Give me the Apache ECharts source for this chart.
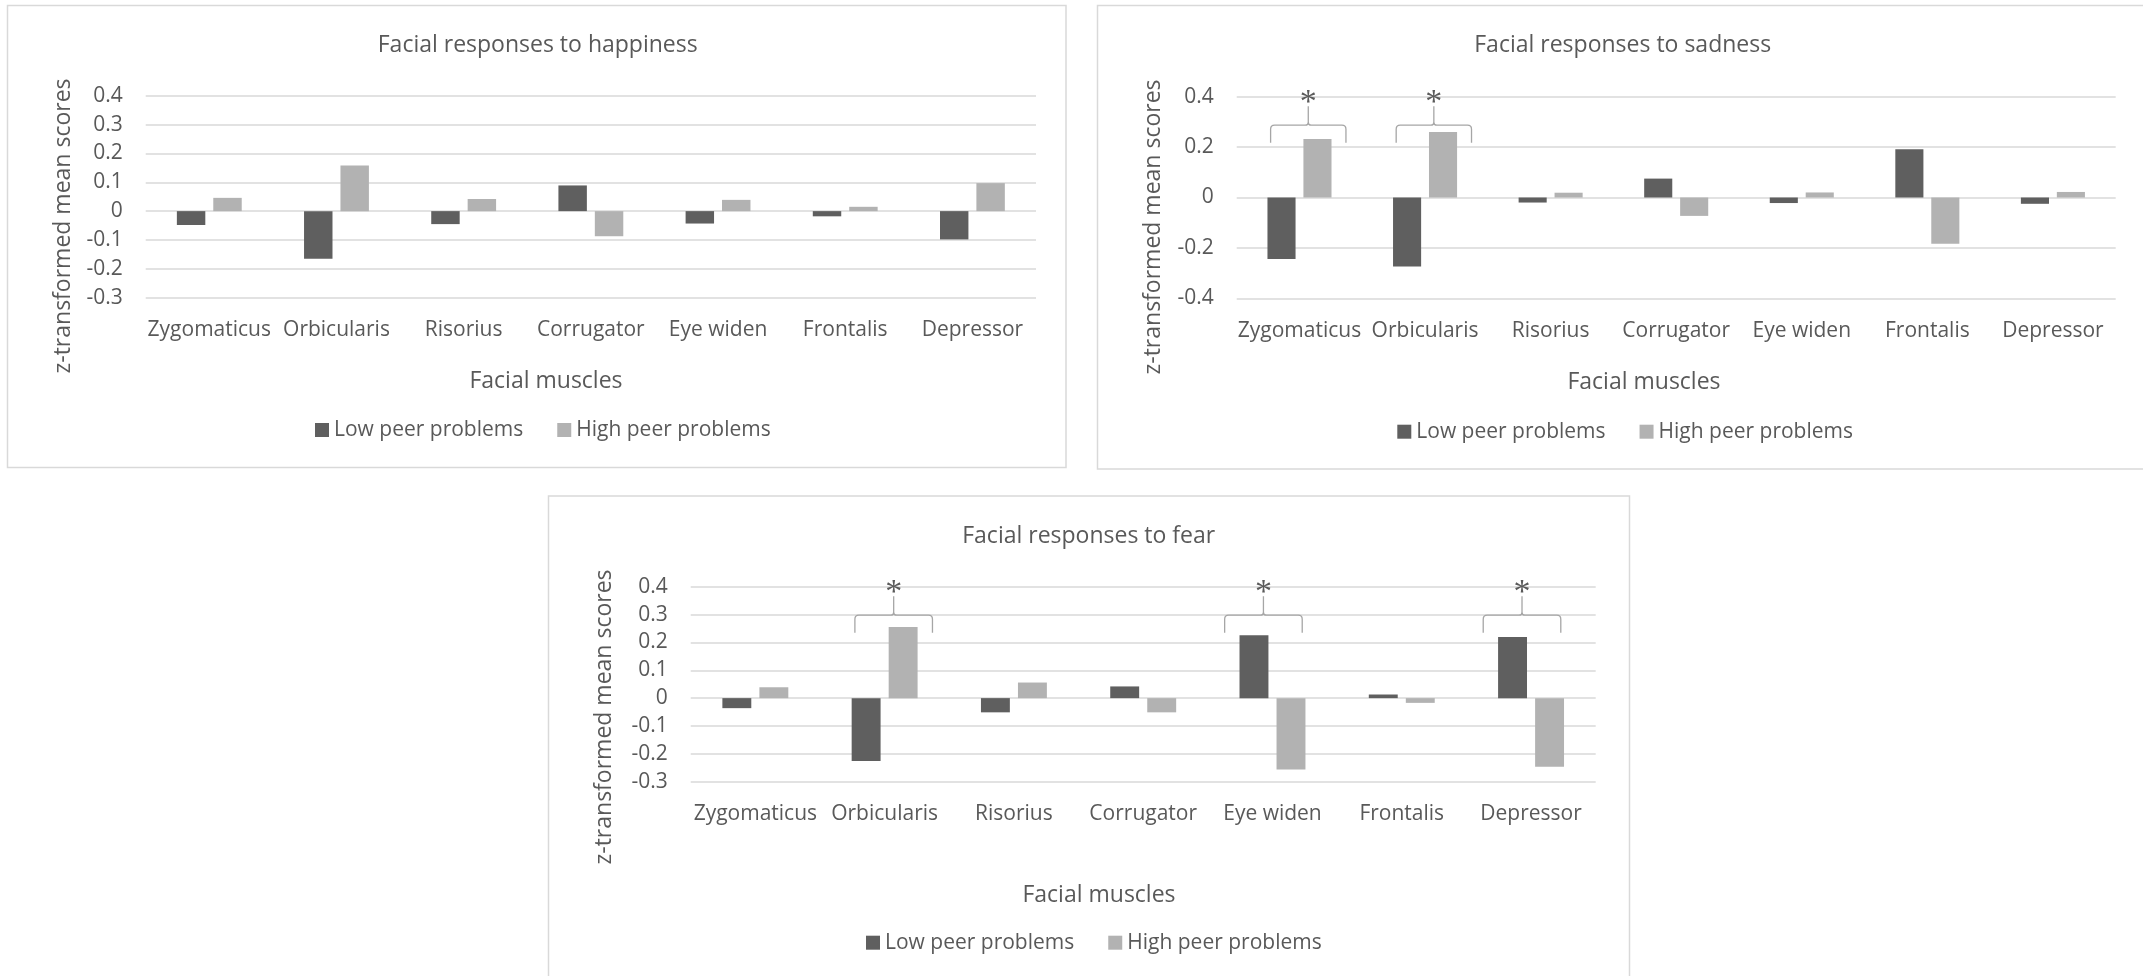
<!DOCTYPE html>
<html>
<head>
<meta charset="utf-8">
<title>Facial responses by peer problems</title>
<script src="https://cdn.jsdelivr.net/npm/echarts@6/dist/echarts.min.js"></script>
<style>
  html, body { margin: 0; padding: 0; background: #ffffff; overflow: hidden; }
  #chart { width: 2143px; height: 976px; }
</style>
</head>
<body>
<div id="chart"></div>
<script>
// Facial muscles (categories, shared by all three panels)
const muscles = ['Zygomaticus', 'Orbicularis', 'Risorius', 'Corrugator', 'Eye widen', 'Frontalis', 'Depressor'];

// z-transformed mean scores per emotion and group
const happinessLow  = [-0.048, -0.165, -0.045,  0.089, -0.043, -0.018, -0.098];
const happinessHigh = [ 0.046,  0.158,  0.042, -0.087,  0.039,  0.015,  0.097];
const sadnessLow    = [-0.244, -0.274, -0.020,  0.075, -0.022,  0.191, -0.025];
const sadnessHigh   = [ 0.232,  0.260,  0.019, -0.073,  0.020, -0.184,  0.022];
const fearLow       = [-0.036, -0.226, -0.051,  0.042,  0.226,  0.013,  0.219];
const fearHigh      = [ 0.039,  0.255,  0.056, -0.051, -0.256, -0.017, -0.246];

// Muscles with a significant group difference (marked with a brace and *)
const happinessSig = [];
const sadnessSig   = ['Zygomaticus', 'Orbicularis'];
const fearSig      = ['Orbicularis', 'Eye widen', 'Depressor'];

const groupNames = ['Low peer problems', 'High peer problems'];
const titles = ['Facial responses to happiness', 'Facial responses to sadness', 'Facial responses to fear'];
const xTitle = 'Facial muscles';
const yTitle = 'z-transformed mean scores';

const FONT = '"Open Sans", "Noto Sans", sans-serif';
const TEXT = '#595959';
const DARK = '#5f5f5f';
const LIGHT = '#b2b2b2';
const GRIDLINE = '#d9d9d9';

// Panel layouts (page pixels)
const panels = [
  { box: [7.5, 5.5, 1058.5, 462], grid: [145.7, 95.7, 890.3, 202], yMin: -0.3, yMax: 0.4, step: 0.1,
    titleX: 537.7, titleTop: 34, xTitlePos: [546, 381.6], yTitlePos: [63.4, 226], legend: [315, 419.5],
    low: happinessLow, high: happinessHigh, sig: happinessSig },
  { box: [1097.5, 5.5, 1060, 463.5], grid: [1236.7, 96.7, 879, 201.6], yMin: -0.4, yMax: 0.4, step: 0.2,
    titleX: 1622.7, titleTop: 33.7, xTitlePos: [1644, 382.8], yTitlePos: [1153.4, 227], legend: [1397.3, 421.2],
    low: sadnessLow, high: sadnessHigh, sig: sadnessSig },
  { box: [548.5, 496, 1081, 520], grid: [690.7, 586.7, 905, 195], yMin: -0.3, yMax: 0.4, step: 0.1,
    titleX: 1088.7, titleTop: 524.8, xTitlePos: [1099, 895.4], yTitlePos: [604.1, 717], legend: [866, 932.2],
    low: fearLow, high: fearHigh, sig: fearSig }
];

// Curly brace over a muscle's pair of bars, with an asterisk on top
function braceRenderer(yMax) {
  return function (params, api) {
    const idx = api.value(0);
    const dir = api.value(2) > api.value(1) ? 1 : -1;
    const top = api.coord([idx, yMax]);
    const bw = api.size([1, 0])[0];
    const cx = top[0] + dir * 0.07 * bw;
    const hw = 0.3 * bw;
    const yb = top[1] + 46, yh = top[1] + 28.5, yp = top[1] + 9.5;
    const xl = cx - hw, xr = cx + hw, r = 4, r2 = 3;
    const d = 'M' + xl + ' ' + yb + ' L' + xl + ' ' + (yh + r) +
      ' Q' + xl + ' ' + yh + ' ' + (xl + r) + ' ' + yh +
      ' L' + (cx - r2) + ' ' + yh +
      ' Q' + cx + ' ' + yh + ' ' + cx + ' ' + (yh - r2) +
      ' L' + cx + ' ' + yp +
      ' M' + cx + ' ' + (yh - r2) +
      ' Q' + cx + ' ' + yh + ' ' + (cx + r2) + ' ' + yh +
      ' L' + (xr - r) + ' ' + yh +
      ' Q' + xr + ' ' + yh + ' ' + xr + ' ' + (yh + r) +
      ' L' + xr + ' ' + yb;
    return {
      type: 'group',
      children: [
        { type: 'path', shape: { pathData: d },
          style: { fill: 'none', stroke: '#a6a6a6', lineWidth: 1.3 } },
        { type: 'text',
          style: { text: '*', x: cx, y: top[1] + 6, align: 'center', verticalAlign: 'middle',
                   font: '34px "Liberation Serif", "DejaVu Serif", serif', fill: '#5a5a5a' } }
      ]
    };
  };
}

const option = {
  backgroundColor: '#ffffff',
  animation: false,
  title: [], legend: [], grid: [], xAxis: [], yAxis: [], series: [], graphic: []
};

panels.forEach(function (p, i) {
  option.graphic.push({
    type: 'rect', silent: true, z: -10,
    shape: { x: p.box[0], y: p.box[1], width: p.box[2], height: p.box[3] },
    style: { fill: 'none', stroke: GRIDLINE, lineWidth: 1.5 }
  });
  option.graphic.push({
    type: 'text', silent: true, x: p.xTitlePos[0], y: p.xTitlePos[1],
    style: { text: xTitle, align: 'center', verticalAlign: 'middle', font: '23px ' + FONT, fill: TEXT }
  });
  option.graphic.push({
    type: 'text', silent: true, x: p.yTitlePos[0], y: p.yTitlePos[1], rotation: Math.PI / 2,
    style: { text: yTitle, align: 'center', verticalAlign: 'middle', font: '23px ' + FONT, fill: TEXT }
  });

  option.title.push({
    text: titles[i], left: p.titleX, top: p.titleTop, textAlign: 'center', padding: 0,
    textStyle: { fontSize: 23, fontWeight: 'normal', color: TEXT, fontFamily: FONT, lineHeight: 23 }
  });

  option.legend.push({
    data: groupNames, left: p.legend[0], top: p.legend[1], padding: 0,
    itemWidth: 14, itemHeight: 14, itemGap: 34, icon: 'rect', selectedMode: false,
    textStyle: { fontSize: 21, color: TEXT, fontFamily: FONT, lineHeight: 21 }
  });

  option.grid.push({ left: p.grid[0], top: p.grid[1], width: p.grid[2], height: p.grid[3], containLabel: false });

  option.xAxis.push({
    gridIndex: i, type: 'category', data: muscles,
    axisLine: { show: false }, axisTick: { show: false }, splitLine: { show: false },
    axisLabel: { interval: 0, margin: 22, fontSize: 21, color: TEXT, fontFamily: FONT, lineHeight: 21 }
  });

  option.yAxis.push({
    gridIndex: i, type: 'value', min: p.yMin, max: p.yMax, interval: p.step,
    axisLine: { show: false }, axisTick: { show: false },
    splitLine: { lineStyle: { color: GRIDLINE, width: 1.5 } },
    axisLabel: { margin: 23, fontSize: 21, color: TEXT, fontFamily: FONT }
  });

  option.series.push({
    type: 'bar', name: groupNames[0], xAxisIndex: i, yAxisIndex: i, data: p.low,
    itemStyle: { color: DARK }, barCategoryGap: '49%', barGap: '28%'
  });
  option.series.push({
    type: 'bar', name: groupNames[1], xAxisIndex: i, yAxisIndex: i, data: p.high,
    itemStyle: { color: LIGHT }, barCategoryGap: '49%', barGap: '28%'
  });

  if (p.sig.length) {
    option.series.push({
      type: 'custom', name: 'Significant difference', xAxisIndex: i, yAxisIndex: i,
      silent: true, clip: false, z: 5,
      data: p.sig.map(function (m) {
        const k = muscles.indexOf(m);
        return [k, p.low[k], p.high[k]];
      }),
      encode: { x: 0, y: 1 },
      renderItem: braceRenderer(p.yMax)
    });
  }
});

const chart = echarts.init(document.getElementById('chart'), null, { renderer: 'canvas' });
chart.setOption(option);
</script>
</body>
</html>
